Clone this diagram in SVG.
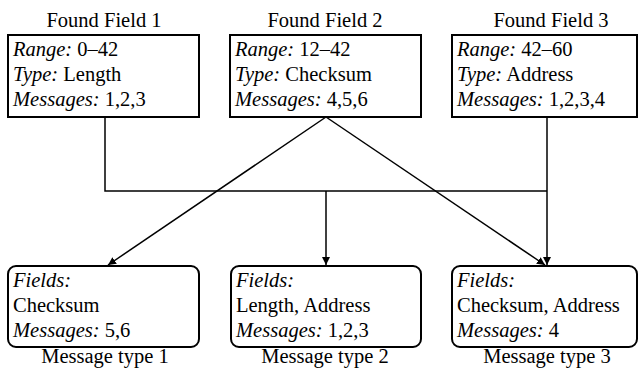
<svg xmlns="http://www.w3.org/2000/svg" width="639" height="375" viewBox="0 0 639 375" font-family="Liberation Serif, Times New Roman, serif">
  <style>
    text { font-family: "Liberation Serif", "Times New Roman", serif; font-size: 20.5px; fill: #000; }
    .lbl { text-anchor: middle; }
    .it { font-style: italic; }
    .box { fill: #fff; stroke: #000; stroke-width: 2; }
    .wire { fill: none; stroke: #000; stroke-width: 1.5; }
  </style>
  <defs>
    <marker id="arrow" viewBox="0 0 10 10" refX="10" refY="5" markerWidth="8" markerHeight="8" markerUnits="userSpaceOnUse" orient="auto">
      <path d="M0,0 L10,5 L0,10 z" fill="#000"/>
    </marker>
  </defs>

  <!-- connectors -->
  <g id="connectors">
    <polyline class="wire" points="105,117 105,191 547,191"/>
    <line class="wire" x1="547" y1="117" x2="547" y2="265" marker-end="url(#arrow)"/>
    <line class="wire" x1="326" y1="191" x2="326" y2="265" marker-end="url(#arrow)"/>
    <line class="wire" x1="326" y1="117" x2="108" y2="265" marker-end="url(#arrow)"/>
    <line class="wire" x1="326" y1="117" x2="545" y2="265" marker-end="url(#arrow)"/>
  </g>

  <!-- found fields -->
  <g id="field1">
    <text class="lbl" x="104" y="27">Found Field 1</text>
    <rect class="box" x="8" y="35" width="191" height="82"/>
    <text x="13" y="56"><tspan class="it">Range:</tspan> 0–42</text>
    <text x="13" y="81"><tspan class="it">Type:</tspan> Length</text>
    <text x="13" y="106"><tspan class="it">Messages:</tspan> 1,2,3</text>
  </g>
  <g id="field2">
    <text class="lbl" x="325" y="27">Found Field 2</text>
    <rect class="box" x="230" y="35" width="191" height="82"/>
    <text x="235" y="56"><tspan class="it">Range:</tspan> 12–42</text>
    <text x="235" y="81"><tspan class="it">Type:</tspan> Checksum</text>
    <text x="235" y="106"><tspan class="it">Messages:</tspan> 4,5,6</text>
  </g>
  <g id="field3">
    <text class="lbl" x="551" y="27">Found Field 3</text>
    <rect class="box" x="452" y="35" width="185" height="82"/>
    <text x="457" y="56"><tspan class="it">Range:</tspan> 42–60</text>
    <text x="457" y="81"><tspan class="it">Type:</tspan> Address</text>
    <text x="457" y="106"><tspan class="it">Messages:</tspan> 1,2,3,4</text>
  </g>

  <!-- message types -->
  <g id="type1">
    <rect class="box" x="8" y="266" width="191" height="81" rx="8"/>
    <text class="it" x="13" y="287">Fields:</text>
    <text x="13" y="312">Checksum</text>
    <text x="13" y="337"><tspan class="it">Messages:</tspan> 5,6</text>
    <text class="lbl" x="105" y="363">Message type 1</text>
  </g>
  <g id="type2">
    <rect class="box" x="231" y="266" width="190" height="81" rx="8"/>
    <text class="it" x="236" y="287">Fields:</text>
    <text x="236" y="312">Length, Address</text>
    <text x="236" y="337"><tspan class="it">Messages:</tspan> 1,2,3</text>
    <text class="lbl" x="325" y="363">Message type 2</text>
  </g>
  <g id="type3">
    <rect class="box" x="452" y="266" width="185" height="81" rx="8"/>
    <text class="it" x="457" y="287">Fields:</text>
    <text x="457" y="312">Checksum, Address</text>
    <text x="457" y="337"><tspan class="it">Messages:</tspan> 4</text>
    <text class="lbl" x="547" y="363">Message type 3</text>
  </g>
</svg>
